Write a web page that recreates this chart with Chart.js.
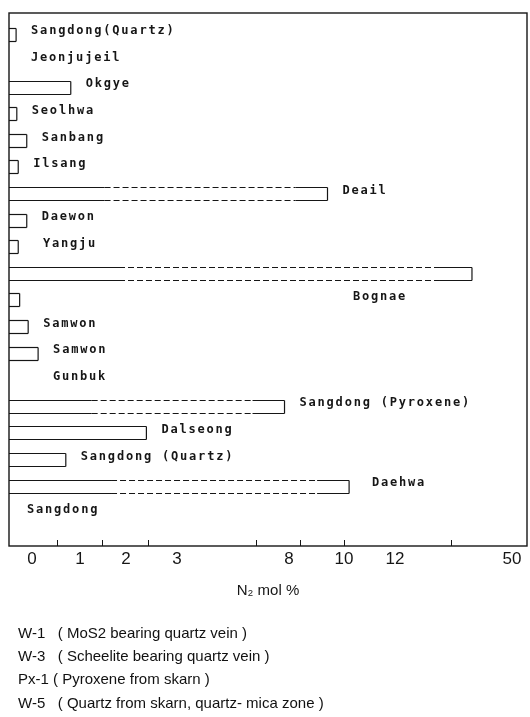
<!DOCTYPE html>
<html>
<head>
<meta charset="utf-8">
<script src="https://cdn.jsdelivr.net/npm/chart.js@4.4.0/dist/chart.umd.min.js"></script>
<style>
  body { margin: 0; background: #fff; }
  #wrap { position: relative; width: 530px; height: 717px; }
  .notes { position: absolute; left: 18px; top: 621px; font: 15px "Liberation Sans", Arial, sans-serif; color: #111; line-height: 23.2px; white-space: pre; }
</style>
</head>
<body>
<div id="wrap">
  <canvas id="chart" width="530" height="717"></canvas>
  <div class="notes">W-1   ( MoS2 bearing quartz vein )
W-3   ( Scheelite bearing quartz vein )
Px-1 ( Pyroxene from skarn )
W-5   ( Quartz from skarn, quartz- mica zone )</div>
</div>
<script>
// rows from top to bottom
let rowLabels = ['Sangdong(Quartz)', 'Jeonjujeil', 'Okgye', 'Seolhwa', 'Sanbang', 'Ilsang', 'Deail',
  'Daewon', 'Yangju', '', 'Bognae', 'Samwon', 'Samwon', 'Gunbuk', 'Sangdong (Pyroxene)',
  'Dalseong', 'Sangdong (Quartz)', 'Daehwa', 'Sangdong'];
// N2 mol %  (null = no bar)
let n2Values = [0.1, null, 0.87, 0.11, 0.25, 0.13, 9.4, 0.25, 0.13, 37, 0.15, 0.27, 0.41, null, 7.8,
  2.4, 0.8, 10.2, null];

let tickLabels = ['0', '1', '2', '3', '8', '10', '12', '50'];

// broken axis : mol % -> axis units
let axisStops = [[0, 0], [1, 71], [2, 117], [3, 168], [8, 280], [10, 335], [12, 386], [50, 503]];
let tickLabelAt = [23, 71, 117, 168, 280, 335, 386, 503];
let tickMarkAt = [48, 93, 139, 247, 291, 335, 442];
// text placed at a fixed spot instead of after the bar
let labelAt = [null, 22, null, null, null, null, null, null, 34, null, 344, null, null, 44, null, null, null, 363, 18];

function toAxis(v) {
  for (let k = 1; k < axisStops.length; k++) {
    let a = axisStops[k - 1], b = axisStops[k];
    if (v <= b[0]) return a[1] + (v - a[0]) / (b[0] - a[0]) * (b[1] - a[1]);
  }
  return axisStops[axisStops.length - 1][1];
}

let points = [];
n2Values.forEach((v, i) => { if (v != null) points.push({x: toAxis(v), y: i}); });

let ink = '#161616';

let outlines = {
  id: 'outlines',
  afterDatasetsDraw(chart) {
    let c = chart.ctx;
    c.save();
    c.strokeStyle = ink;
    c.lineWidth = 1.2;
    chart.getDatasetMeta(0).data.forEach(el => {
      let p = el.getProps(['x', 'y', 'base', 'height'], true);
      let x0 = p.base, x1 = p.x, y0 = Math.round(p.y - p.height / 2) + 0.5, y1 = y0 + p.height;
      let edge = (y) => {
        if (x1 - x0 > 150) {
          let a = x0 + Math.min(110, (x1 - x0) * 0.3), b = x1 - 32;
          c.setLineDash([]);
          c.beginPath(); c.moveTo(x0, y); c.lineTo(a, y); c.moveTo(b, y); c.lineTo(x1, y); c.stroke();
          c.setLineDash([6, 3]);
          c.beginPath(); c.moveTo(a, y); c.lineTo(b, y); c.stroke();
          c.setLineDash([]);
        } else {
          c.beginPath(); c.moveTo(x0, y); c.lineTo(x1, y); c.stroke();
        }
      };
      edge(y0); edge(y1);
      c.beginPath(); c.moveTo(x1, y0); c.lineTo(x1, y1); c.stroke();
    });
    c.restore();
  }
};

let frame = {
  id: 'frame',
  afterDraw(chart) {
    let c = chart.ctx, a = chart.chartArea, xs = chart.scales.x;
    c.save();
    c.strokeStyle = ink;
    c.lineWidth = 1.4;
    c.strokeRect(a.left, a.top, a.right - a.left, a.bottom - a.top);
    c.lineWidth = 1;
    tickMarkAt.forEach(t => {
      let px = Math.round(xs.getPixelForValue(t)) + 0.5;
      c.beginPath(); c.moveTo(px, a.bottom); c.lineTo(px, a.bottom - 6); c.stroke();
    });
    // site names
    let meta = chart.getDatasetMeta(0);
    c.fillStyle = ink;
    c.font = 'bold 12px "DejaVu Sans Mono", monospace';
    c.letterSpacing = '1.8px';
    c.textBaseline = 'middle';
    let k = 0;
    rowLabels.forEach((name, i) => {
      let end = null;
      if (n2Values[i] != null) { end = meta.data[k].x; k++; }
      if (!name) return;
      let x = labelAt[i] != null ? xs.getPixelForValue(labelAt[i]) : end + 15;
      c.fillText(name, x, chart.scales.y.getPixelForValue(i) - 3);
    });
    c.restore();
  }
};

new Chart(document.getElementById('chart'), {
  type: 'bar',
  data: {
    datasets: [{
      data: points,
      backgroundColor: 'rgba(0,0,0,0)',
      borderWidth: 0,
      barThickness: 13
    }]
  },
  options: {
    indexAxis: 'y',
    responsive: false,
    animation: false,
    devicePixelRatio: 1,
    layout: { padding: { left: 9, right: 3, top: 13, bottom: 117 } },
    plugins: { legend: { display: false }, tooltip: { enabled: false } },
    scales: {
      y: { type: 'linear', reverse: true, offset: false, min: -0.79, max: 19.25, display: false },
      x: {
        type: 'linear', min: 0, max: 518,
        grid: { display: false, drawTicks: false },
        border: { display: false },
        afterBuildTicks: s => { s.ticks = tickLabelAt.map(v => ({value: v})); },
        afterFit: s => { s.height = 54; },
        ticks: {
          autoSkip: false, maxRotation: 0, padding: 3, color: ink,
          font: { family: '"Liberation Sans", Arial, sans-serif', size: 17 },
          callback: (v, i) => tickLabels[i]
        },
        title: {
          display: true, text: 'N\u2082 mol %', color: ink,
          font: { family: '"Liberation Sans", Arial, sans-serif', size: 15 },
          padding: { top: 4, bottom: 0 }
        }
      }
    }
  },
  plugins: [outlines, frame]
});
</script>
</body>
</html>
